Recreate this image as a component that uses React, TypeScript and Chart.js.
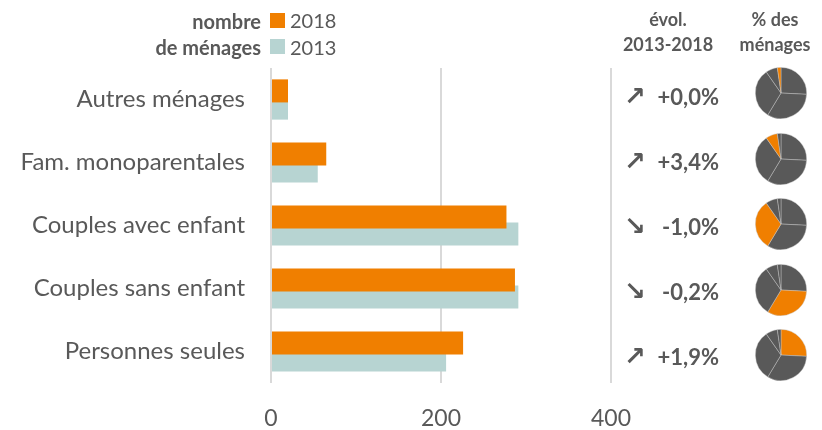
import React, { useEffect, useRef } from "react";
import { Chart, registerables } from "chart.js";

Chart.register(...registerables);

const categories = [
  "Autres ménages",
  "Fam. monoparentales",
  "Couples avec enfant",
  "Couples sans enfant",
  "Personnes seules",
];
const values2018 = [20, 65, 277, 287, 226];
const values2013 = [20, 55, 291, 291, 206];
const evolution = [0.0, 3.4, -1.0, -0.2, 1.9];
const xTicks = [0, 200, 400];

const ORANGE = "#F07F00";
const TEAL = "#B7D4D2";
const TEXT = "#595959";
const FONT = "Lato, 'Open Sans', sans-serif";

function fmtEvol(v: number) {
  const s = Math.abs(v).toFixed(1).replace(".", ",");
  return (v < 0 ? "-" : "+") + s + "%";
}

function Pie({ index }: { index: number }) {
  const ref = useRef<HTMLCanvasElement | null>(null);
  useEffect(() => {
    if (!ref.current) return;
    // pie slices in reverse category order, starting at 12 o'clock
    const order = categories.map((_, i) => categories.length - 1 - i);
    const chart = new Chart(ref.current, {
      type: "pie",
      data: {
        labels: order.map((i) => categories[i]),
        datasets: [
          {
            data: order.map((i) => values2018[i]),
            backgroundColor: order.map((i) => (i === index ? ORANGE : "#595959")),
            borderColor: "rgba(200,200,200,0.55)",
            borderWidth: 0.8,
          },
        ],
      },
      options: {
        responsive: false,
        animation: false,
        events: [],
        layout: { padding: 0 },
        plugins: { legend: { display: false }, tooltip: { enabled: false } },
      },
    });
    return () => chart.destroy();
  }, [index]);
  return <canvas ref={ref} width={52} height={52} style={{ width: 52, height: 52 }} />;
}

export default function App() {
  const canvasRef = useRef<HTMLCanvasElement | null>(null);

  useEffect(() => {
    if (!canvasRef.current) return;
    const chart = new Chart(canvasRef.current, {
      type: "bar",
      data: {
        labels: categories,
        datasets: [
          {
            label: "2018",
            data: values2018,
            backgroundColor: ORANGE,
            categoryPercentage: 0.546,
            barPercentage: 1.34,
          },
          {
            label: "2013",
            data: values2013,
            backgroundColor: TEAL,
            categoryPercentage: 0.546,
            barPercentage: 1.34,
          },
        ],
      },
      options: {
        indexAxis: "y",
        responsive: false,
        animation: false,
        events: [],
        layout: { padding: { top: 68, right: 211, bottom: 0, left: 0 } },
        plugins: { legend: { display: false }, tooltip: { enabled: false } },
        scales: {
          x: {
            min: 0,
            max: 400,
            afterBuildTicks: (scale: any) => {
              scale.ticks = xTicks.map((v) => ({ value: v }));
            },
            afterFit: (scale: any) => {
              scale.height = 47;
            },
            grid: { color: "#D9D9D9", lineWidth: 2, drawTicks: false },
            border: { display: false },
            ticks: {
              color: TEXT,
              font: { family: FONT, size: 23 },
              padding: 22,
            },
          },
          y: {
            afterFit: (scale: any) => {
              scale.width = 271;
            },
            grid: { display: false, drawTicks: false },
            border: { display: false },
            ticks: {
              color: TEXT,
              font: { family: FONT, size: 24 },
              padding: 26,
            },
          },
        },
      },
    });
    return () => chart.destroy();
  }, []);

  const textBase: React.CSSProperties = {
    position: "absolute",
    fontFamily: FONT,
    color: TEXT,
    whiteSpace: "nowrap",
    lineHeight: 1,
  };

  return (
    <div style={{ position: "absolute", left: 0, top: 0, width: 822, height: 430, background: "#fff" }}>
      <canvas ref={canvasRef} width={822} height={430} style={{ position: "absolute", left: 0, top: 0, width: 822, height: 430 }} />

      {/* legend */}
      <div style={{ ...textBase, right: 822 - 261, top: 8, fontWeight: 700, fontSize: 20, textAlign: "right", lineHeight: "26px" }}>
        nombre
        <br />
        de ménages
      </div>
      <div style={{ position: "absolute", left: 270, top: 13, width: 15, height: 15, background: ORANGE }} />
      <div style={{ position: "absolute", left: 270, top: 39, width: 15, height: 15, background: TEAL }} />
      <div style={{ ...textBase, left: 290, top: 10, fontSize: 20 }}>2018</div>
      <div style={{ ...textBase, left: 290, top: 37, fontSize: 20 }}>2013</div>

      {/* headers */}
      <div style={{ ...textBase, left: 618, width: 100, top: 7, fontWeight: 700, fontSize: 18, textAlign: "center", lineHeight: "25px" }}>
        évol.
        <br />
        2013-2018
      </div>
      <div style={{ ...textBase, left: 730, width: 90, top: 7, fontWeight: 700, fontSize: 18, textAlign: "center", lineHeight: "25px" }}>
        % des
        <br />
        ménages
      </div>

      {/* evolution column */}
      {evolution.map((v, i) => (
        <React.Fragment key={i}>
          <div style={{ ...textBase, left: 624, top: 97 + i * 65 - 14, fontSize: 26, fontWeight: 700, fontFamily: "'DejaVu Sans', sans-serif" }}>
            {v < 0 ? "↘" : "↗"}
          </div>
          <div style={{ ...textBase, right: 822 - 719, top: 97 + i * 65 - 11, fontSize: 22, fontWeight: 700 }}>
            {fmtEvol(v)}
          </div>
        </React.Fragment>
      ))}

      {/* pies */}
      {categories.map((_, i) => (
        <div key={i} style={{ position: "absolute", left: 781 - 26, top: 93 + i * 65.5 - 26 }}>
          <Pie index={i} />
        </div>
      ))}
    </div>
  );
}
